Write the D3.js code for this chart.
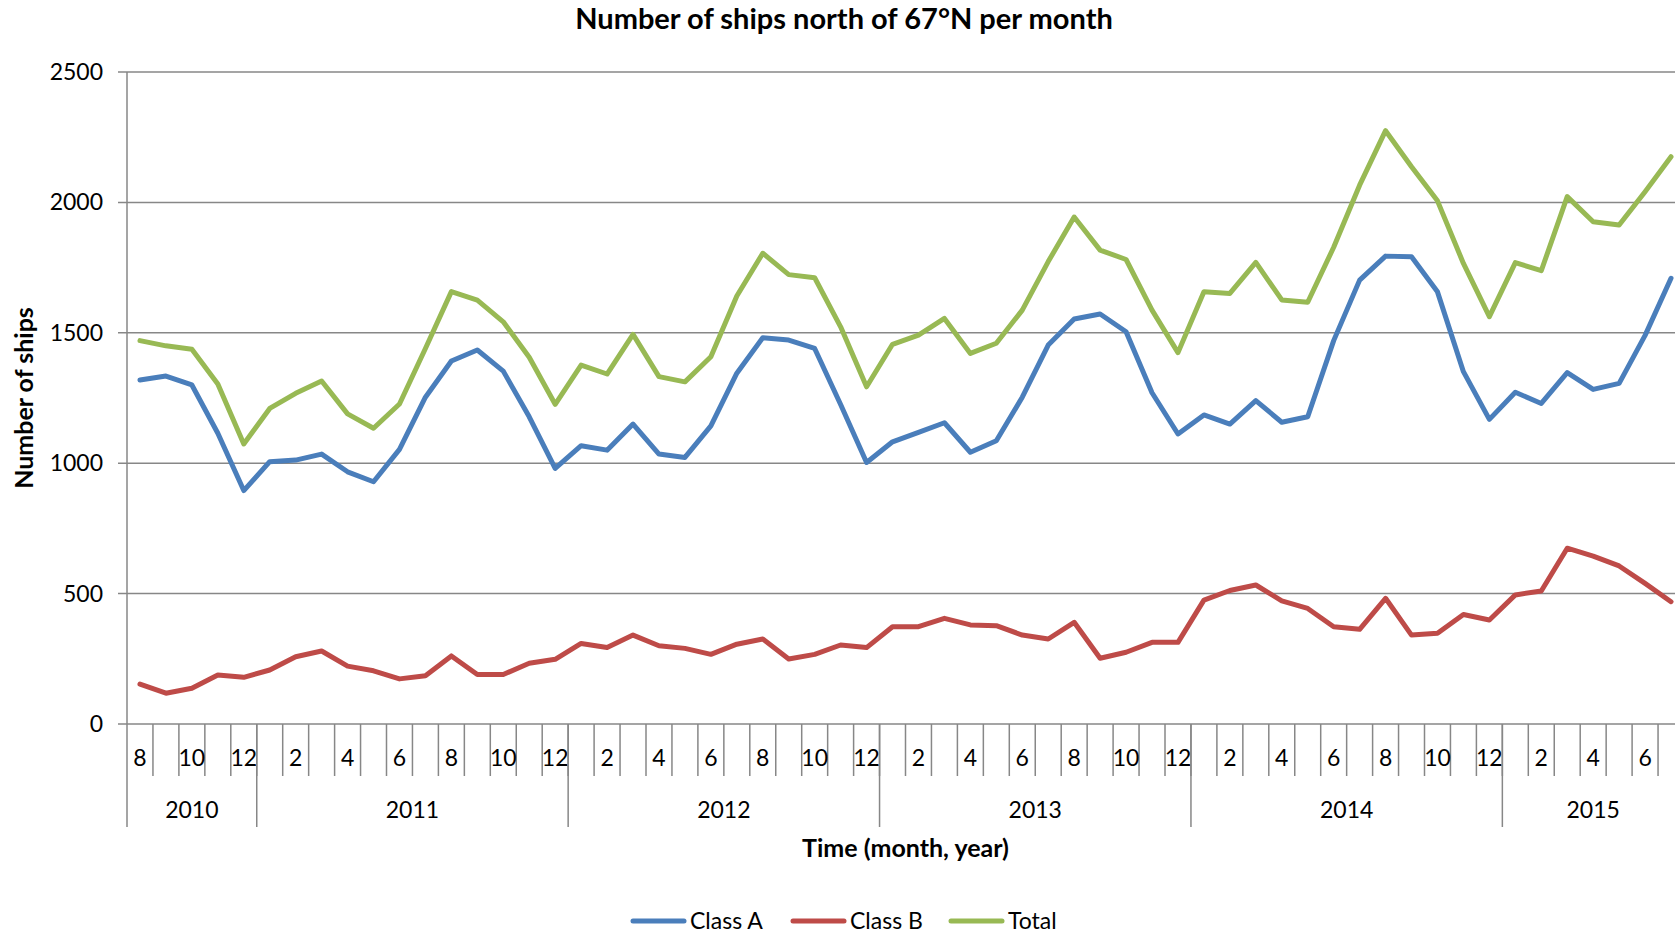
<!DOCTYPE html>
<html>
<head>
<meta charset="utf-8">
<script src="https://cdn.jsdelivr.net/npm/d3@7"></script>
<style>
  body { margin: 0; background: #fff; overflow: hidden; }
  text { font-family: Lato, "Open Sans", sans-serif; fill: #000; }
</style>
</head>
<body>
<div id="chart"></div>
<script>
// months from Aug 2010 to Jul 2015
const months = [8,9,10,11,12,
  1,2,3,4,5,6,7,8,9,10,11,12,
  1,2,3,4,5,6,7,8,9,10,11,12,
  1,2,3,4,5,6,7,8,9,10,11,12,
  1,2,3,4,5,6,7,8,9,10,11,12,
  1,2,3,4,5,6,7];
const years = [2010, 2011, 2012, 2013, 2014, 2015];
const yearCounts = [5, 12, 12, 12, 12, 7];

const classA = [1319,1334,1300,1115,895,1006,1012,1035,967,929,
  1053,1253,1392,1434,1353,1178,980,1067,1050,1150,
  1035,1022,1143,1345,1481,1472,1440,1225,1003,1082,
  1118,1155,1042,1086,1253,1453,1553,1572,1504,1270,
  1112,1185,1150,1240,1157,1178,1470,1702,1794,1792,
  1657,1351,1168,1272,1229,1347,1283,1306,1490,1709];
const classB = [153,118,137,188,179,207,258,280,222,204,
  173,185,261,190,190,233,248,309,293,341,
  300,290,267,306,326,249,267,303,293,373,
  373,405,380,377,341,326,390,252,275,313,
  313,475,512,533,472,443,373,363,482,341,
  348,420,399,495,510,674,644,606,539,469];
const total = [1470,1450,1437,1304,1074,1210,1268,1315,1189,1134,
  1227,1440,1658,1625,1542,1406,1226,1376,1342,1494,
  1332,1312,1408,1641,1805,1723,1711,1523,1293,1456,
  1491,1555,1421,1460,1587,1773,1944,1817,1781,1587,
  1424,1657,1651,1770,1626,1617,1828,2066,2275,2137,
  2006,1766,1562,1769,1738,2022,1926,1913,2041,2175];
const yTicks = [0, 500, 1000, 1500, 2000, 2500];

const seriesNames = ['Class A', 'Class B', 'Total'];
const seriesColors = ['#4a7ebb', '#be4b48', '#98b954'];
const seriesData = [classA, classB, total];

const width = 1675, height = 934;
const plotLeft = 127, plotW = 1557, plotTop = 72, plotBottom = 724;
const gridColor = '#878787';
const labelSize = '23px';

const svg = d3.select('#chart').append('svg')
  .attr('width', width)
  .attr('height', height);

const x = d3.scaleBand()
  .domain(d3.range(months.length))
  .range([plotLeft, plotLeft + plotW]);
const y = d3.scaleLinear()
  .domain([0, 2500])
  .range([plotBottom, plotTop]);

// horizontal gridlines + y ticks
svg.append('g').selectAll('line')
  .data(yTicks)
  .join('line')
  .attr('x1', plotLeft - 9)
  .attr('x2', plotLeft + plotW)
  .attr('y1', d => y(d))
  .attr('y2', d => y(d))
  .style('stroke', gridColor)
  .style('stroke-width', 1.5);

svg.append('g').selectAll('text')
  .data(yTicks)
  .join('text')
  .attr('x', plotLeft - 24)
  .attr('y', d => y(d))
  .attr('dy', '0.35em')
  .attr('text-anchor', 'end')
  .style('font-size', labelSize)
  .text(d => d);

// y axis line, runs down through the category area
svg.append('line')
  .attr('x1', plotLeft).attr('x2', plotLeft)
  .attr('y1', plotTop).attr('y2', 827)
  .style('stroke', gridColor)
  .style('stroke-width', 1.5);

// month separators
svg.append('g').selectAll('line')
  .data(d3.range(1, months.length + 1))
  .join('line')
  .attr('x1', i => plotLeft + i * x.step())
  .attr('x2', i => plotLeft + i * x.step())
  .attr('y1', plotBottom)
  .attr('y2', 776)
  .style('stroke', gridColor)
  .style('stroke-width', 1.5);

// month labels (every other one)
svg.append('g').selectAll('text')
  .data(months.map((m, i) => ({m, i})).filter(d => d.i % 2 === 0))
  .join('text')
  .attr('x', d => x(d.i) + x.bandwidth() / 2)
  .attr('y', 758)
  .attr('dy', '0.35em')
  .attr('text-anchor', 'middle')
  .style('font-size', labelSize)
  .text(d => d.m);

// year groups
const yearStarts = yearCounts.map((c, i) => d3.sum(yearCounts.slice(0, i)));
svg.append('g').selectAll('line')
  .data(yearStarts.slice(1).concat([months.length]))
  .join('line')
  .attr('x1', s => plotLeft + s * x.step())
  .attr('x2', s => plotLeft + s * x.step())
  .attr('y1', plotBottom)
  .attr('y2', 827)
  .style('stroke', gridColor)
  .style('stroke-width', 1.5);

svg.append('g').selectAll('text')
  .data(years)
  .join('text')
  .attr('x', (d, i) => plotLeft + (yearStarts[i] + yearCounts[i] / 2) * x.step())
  .attr('y', 810)
  .attr('dy', '0.35em')
  .attr('text-anchor', 'middle')
  .style('font-size', labelSize)
  .text(d => d);

// lines
const line = d3.line()
  .x((d, i) => x(i) + x.bandwidth() / 2)
  .y(d => y(d));

seriesData.forEach((s, k) => {
  svg.append('path')
    .datum(s)
    .attr('d', line)
    .style('fill', 'none')
    .style('stroke', seriesColors[k])
    .style('stroke-width', 5)
    .style('stroke-linejoin', 'round')
    .style('stroke-linecap', 'round');
});

// titles
svg.append('text')
  .attr('x', 844)
  .attr('y', 19)
  .attr('dy', '0.35em')
  .attr('text-anchor', 'middle')
  .style('font-size', '29px')
  .style('font-weight', 'bold')
  .text('Number of ships north of 67°N per month');

svg.append('text')
  .attr('x', plotLeft + plotW / 2)
  .attr('y', 848)
  .attr('dy', '0.35em')
  .attr('text-anchor', 'middle')
  .style('font-size', '25px')
  .style('font-weight', 'bold')
  .text('Time (month, year)');

svg.append('text')
  .attr('transform', `translate(24, ${(plotTop + plotBottom) / 2}) rotate(-90)`)
  .attr('dy', '0.35em')
  .attr('text-anchor', 'middle')
  .style('font-size', '25px')
  .style('font-weight', 'bold')
  .text('Number of ships');

// legend
const legendX = [633, 793, 951];
const legend = svg.append('g').selectAll('g')
  .data(seriesNames)
  .join('g')
  .attr('transform', (d, i) => `translate(${legendX[i]}, 921)`);
legend.append('line')
  .attr('x1', 0).attr('x2', 51)
  .style('stroke', (d, i) => seriesColors[i])
  .style('stroke-width', 5)
  .style('stroke-linecap', 'round');
legend.append('text')
  .attr('x', 57)
  .attr('dy', '0.35em')
  .style('font-size', labelSize)
  .text(d => d);
</script>
</body>
</html>
